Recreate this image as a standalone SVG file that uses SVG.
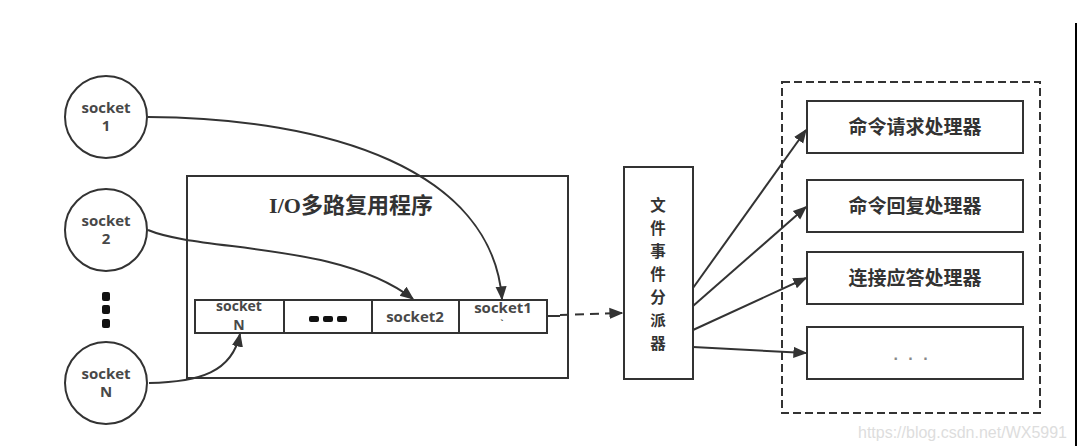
<svg xmlns="http://www.w3.org/2000/svg" width="1078" height="446" viewBox="0 0 1078 446">
<style>
.ln{fill:none;stroke:#333;stroke-width:2}
.box{fill:#fff;stroke:#333;stroke-width:2}
.en{font-family:"Open Sans","Liberation Sans",sans-serif;font-weight:bold;fill:#484848;text-anchor:middle}
.zh{font-family:"Noto Sans CJK SC",sans-serif;font-weight:bold;fill:#333;text-anchor:middle}
</style>
<defs>
<marker id="ahb" viewBox="0 0 10 10" refX="9" refY="5" markerWidth="14" markerHeight="14" markerUnits="userSpaceOnUse" orient="auto">
<path d="M0,1 L10,5 L0,9 Z" fill="#333"/>
</marker>
</defs>
<rect width="1078" height="446" fill="#fff"/>
<line x1="1076" y1="23" x2="1076" y2="446" stroke="#000" stroke-width="2"/>

<g id="container">
<rect x="782" y="82" width="258" height="331" fill="none" stroke="#333" stroke-width="2" stroke-dasharray="8,4"/>
</g>

<g id="io">
<rect class="box" x="187" y="176" width="381" height="202"/>
<text class="zh" x="351" y="213" font-size="22" style="font-family:'Liberation Serif','Noto Sans CJK SC',serif">I/O<tspan style="font-family:'Noto Sans CJK SC',sans-serif">多路复用程序</tspan></text>
</g>

<g id="queue">
<rect class="box" x="195" y="300" width="352" height="33"/>
<line class="ln" x1="284" y1="300" x2="284" y2="333"/>
<line class="ln" x1="372" y1="300" x2="372" y2="333"/>
<line class="ln" x1="459" y1="300" x2="459" y2="333"/>
<text class="en" x="239" y="311" font-size="14">socket</text>
<text class="en" x="239" y="330" font-size="14">N</text>
<rect x="309" y="316" width="10" height="6" rx="2" fill="#111"/>
<rect x="323" y="316" width="10" height="6" rx="2" fill="#111"/>
<rect x="337" y="316" width="10" height="6" rx="2" fill="#111"/>
<text class="en" x="415" y="322" font-size="15">socket2</text>
<text class="en" x="503" y="313" font-size="15">socket1</text>
<text class="en" x="502" y="326" font-size="9">`</text>
</g>

<g id="socket1">
<circle class="box" cx="106" cy="117" r="41"/>
<text class="en" x="106" y="113" font-size="15">socket</text>
<text class="en" x="106" y="131" font-size="15">1</text>
</g>
<g id="socket2">
<circle class="box" cx="106" cy="230" r="41"/>
<text class="en" x="106" y="226" font-size="15">socket</text>
<text class="en" x="106" y="244" font-size="15">2</text>
</g>
<g id="ellipsis">
<rect x="102" y="292" width="8" height="9" rx="2" fill="#111"/>
<rect x="102" y="305" width="8" height="9" rx="2" fill="#111"/>
<rect x="102" y="319" width="8" height="9" rx="2" fill="#111"/>
</g>
<g id="socketN">
<circle class="box" cx="106" cy="383" r="41"/>
<text class="en" x="106" y="379" font-size="15">socket</text>
<text class="en" x="106" y="397" font-size="15">N</text>
</g>

<g id="dispatcher">
<rect class="box" x="624" y="167" width="69" height="212"/>
<g class="zh" font-size="15.5">
<text x="658" y="211">文</text>
<text x="658" y="234">件</text>
<text x="658" y="257">事</text>
<text x="658" y="280">件</text>
<text x="658" y="303">分</text>
<text x="658" y="326">派</text>
<text x="658" y="349">器</text>
</g>
</g>

<g id="h1"><rect class="box" x="807" y="101" width="216" height="52"/><text class="zh" x="915" y="134" font-size="19">命令请求处理器</text></g>
<g id="h2"><rect class="box" x="807" y="180" width="216" height="52"/><text class="zh" x="915" y="213" font-size="19">命令回复处理器</text></g>
<g id="h3"><rect class="box" x="807" y="252" width="216" height="52"/><text class="zh" x="915" y="285" font-size="19">连接应答处理器</text></g>
<g id="h4"><rect class="box" x="807" y="327" width="216" height="52"/><text x="912" y="360" font-size="16" font-weight="bold" fill="#888" text-anchor="middle" letter-spacing="3" font-family="Liberation Sans, sans-serif">. . .</text></g>

<g id="connectors">
<path class="ln" d="M148,117 C330,118 492,170 502,299" marker-end="url(#ahb)"/>
<path class="ln" d="M148,230 C200,252 340,242 413,299" marker-end="url(#ahb)"/>
<path class="ln" d="M149,383 C200,382 232,372 240,334" marker-end="url(#ahb)"/>
<path class="ln" d="M547,316 L560,316"/>
<path class="ln" d="M560,315 L622,313" stroke-dasharray="9,6" marker-end="url(#ahb)"/>
<line class="ln" x1="693" y1="288" x2="806" y2="130" marker-end="url(#ahb)"/>
<line class="ln" x1="693" y1="306" x2="806" y2="207" marker-end="url(#ahb)"/>
<line class="ln" x1="693" y1="330" x2="806" y2="278" marker-end="url(#ahb)"/>
<line class="ln" x1="693" y1="347" x2="806" y2="353" marker-end="url(#ahb)"/>
</g>

<text x="1067" y="438" font-size="16" fill="#ddd" text-anchor="end" font-family="Liberation Sans, sans-serif">https://blog.csdn.net/WX5991</text>
</svg>
